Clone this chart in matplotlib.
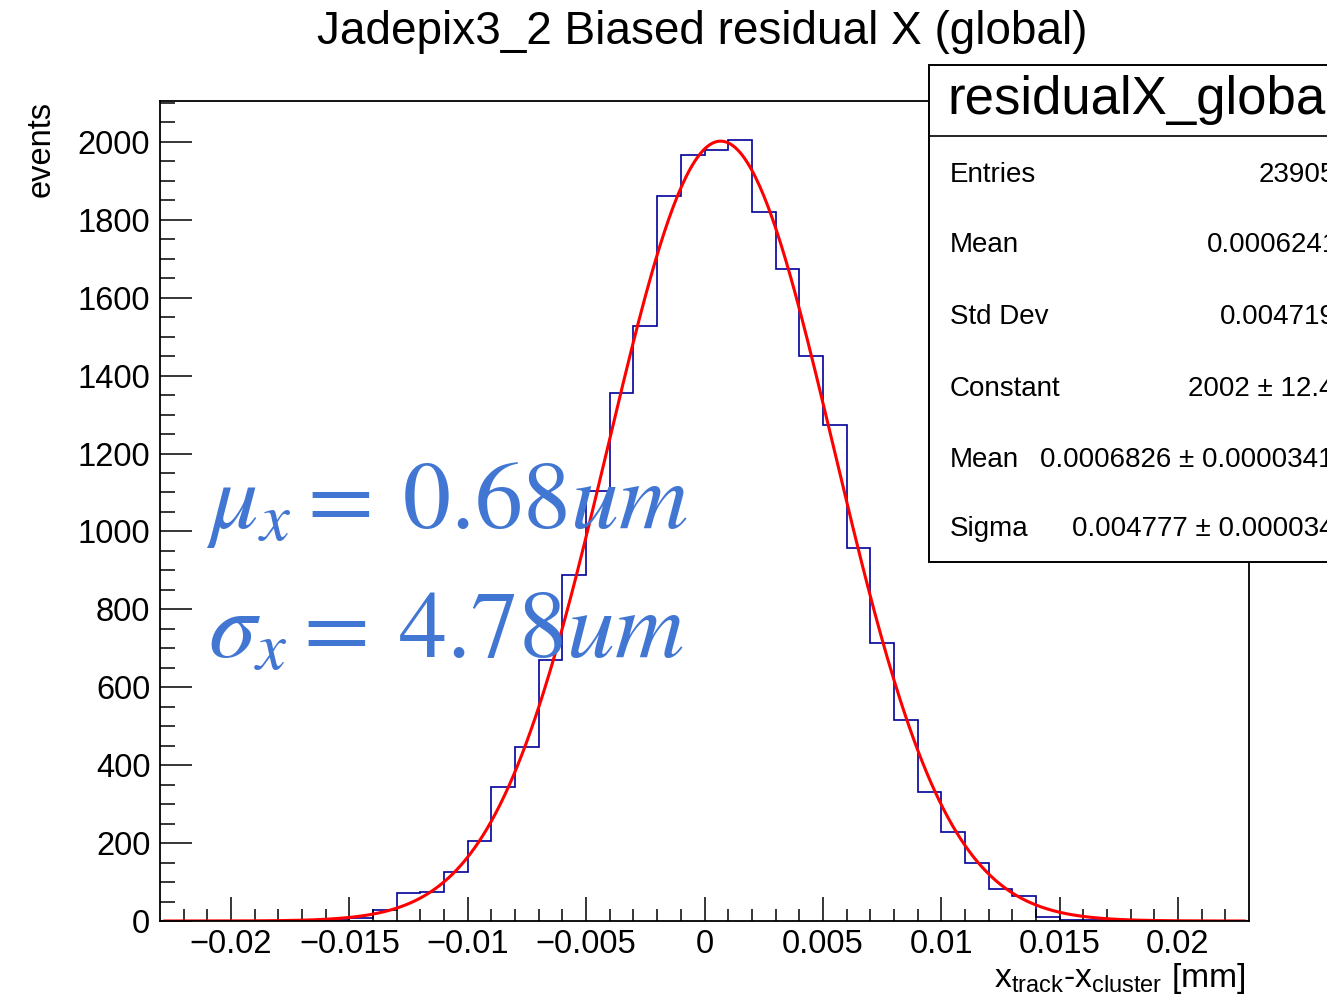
import numpy as np
import matplotlib
matplotlib.use("Agg")
import matplotlib.pyplot as plt
from matplotlib.patches import Rectangle
from matplotlib.lines import Line2D

plt.rcParams['font.family'] = ['Liberation Sans', 'DejaVu Sans']

# histogram: 46 bins of 0.001 mm from -0.023 to 0.023
edges = np.linspace(-0.023, 0.023, 47)
counts = [0, 0, 0, 0, 1, 1, 2, 3,
          7, 28, 71, 75, 125, 205, 344, 447, 670, 888,
          1104, 1356, 1528, 1860, 1967, 1980, 2005, 1819, 1673, 1451,
          1273, 958, 714, 516, 330, 228, 148, 82, 64, 11,
          3, 2, 1, 1, 0, 0, 0, 0]

# gaus fit parameters
fit_const = 2002
fit_mean = 0.0006826
fit_sigma = 0.004777

xticks = [-0.02, -0.015, -0.01, -0.005, 0, 0.005, 0.01, 0.015, 0.02]
xticklabels = ['\u22120.02', '\u22120.015', '\u22120.01', '\u22120.005', '0',
               '0.005', '0.01', '0.015', '0.02']
yticks = [0, 200, 400, 600, 800, 1000, 1200, 1400, 1600, 1800, 2000]

stat_names = ['Entries', 'Mean', 'Std Dev', 'Constant', 'Mean', 'Sigma']
stat_values = ['23905', '0.0006241', '0.004719', '2002 \u00b1 12.4',
               '0.0006826 \u00b1 0.0000341', '0.004777 \u00b1 0.0000341']

W, H = 1327, 1000
fig = plt.figure(figsize=(W / 100, H / 100), dpi=100)
ax = fig.add_axes([160 / W, 79 / H, 1089 / W, 820 / H])

ax.stairs(counts, edges, color='#000099', lw=1.2)
xf = np.linspace(-0.0228, 0.0228, 500)
ax.plot(xf, fit_const * np.exp(-0.5 * ((xf - fit_mean) / fit_sigma) ** 2),
        color='#ff0000', lw=2.2)

ax.set_xlim(-0.023, 0.023)
ax.set_ylim(0, 2105)
ax.set_xticks(xticks)
ax.set_xticklabels(xticklabels)
ax.set_xticks(np.arange(-0.022, 0.0225, 0.001), minor=True)
ax.set_yticks(yticks)
ax.set_yticks(np.arange(0, 2101, 50), minor=True)
ax.tick_params(axis='x', which='major', direction='in', length=17.3, width=1.1,
               labelsize=23.5, pad=6)
ax.tick_params(axis='x', which='minor', direction='in', length=8.5, width=1.1)
ax.tick_params(axis='y', which='major', direction='in', length=22.8, width=1.1,
               labelsize=23.5, pad=7)
ax.tick_params(axis='y', which='minor', direction='in', length=11, width=1.1)
for s in ax.spines.values():
    s.set_linewidth(1.3)

fig.text(702.5 / W, 1 - 44 / H, 'Jadepix3_2 Biased residual X (global)',
         ha='center', va='baseline', fontsize=33)
fig.text(41 / W, 1 - 101 / H, 'events', rotation=90, ha='center', va='top',
         fontsize=23.5)
fig.text(1245 / W, 1 - 987 / H,
         r'x$_\mathregular{track}$-x$_\mathregular{cluster}$ [mm]',
         ha='right', va='baseline', fontsize=24.2)

blue = '#4176d2'
fig.text(206 / W, 1 - 528 / H, r'$\mu_{x} =\: 0.68um$', math_fontfamily='stix',
         fontsize=69, color=blue, ha='left', va='baseline')
fig.text(208 / W, 1 - 657 / H, r'$\sigma_{x} =\: 4.78um$', math_fontfamily='stix',
         fontsize=69, color=blue, ha='left', va='baseline')

# stats box
fig.add_artist(Rectangle((929 / W, 1 - 562 / H), 0.5, 497 / H,
                         transform=fig.transFigure, facecolor='white',
                         edgecolor='black', lw=1.4, zorder=5))
fig.add_artist(Line2D([929 / W, 1.0], [1 - 136 / H, 1 - 136 / H],
                      transform=fig.transFigure, color='black', lw=1.2, zorder=6))
fig.text(947 / W, 1 - 114 / H, 'residualX_global', fontsize=38,
         ha='left', va='baseline', zorder=7)
baselines = [182, 252, 323.5, 396, 466.7, 536]
right_edges = [1336, 1338, 1336, 1334, 1334, 1350]
for name, val, yb, xr in zip(stat_names, stat_values, baselines, right_edges):
    fig.text(950 / W, 1 - yb / H, name, fontsize=20, ha='left',
             va='baseline', zorder=7)
    fig.text(xr / W, 1 - yb / H, val, fontsize=20, ha='right',
             va='baseline', zorder=7)

fig.savefig('out.png', dpi=100)
